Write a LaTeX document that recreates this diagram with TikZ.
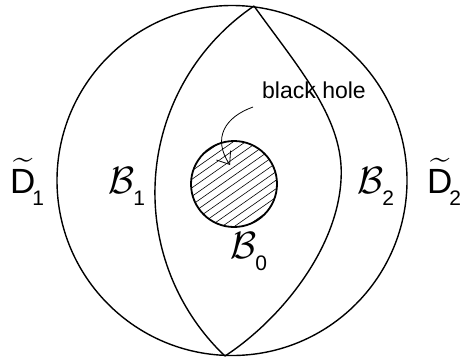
\documentclass[tikz,border=0pt]{standalone}
\usepackage{fontspec}
\setmainfont{Liberation Sans}
\usepackage{graphicx}
\usepackage{tikz}
\usetikzlibrary{arrows.meta}
\newcommand{\bigsub}[1]{\kern-1pt\raisebox{-12pt}{\fontsize{21}{21}\selectfont #1}}
\newcommand{\calB}{\scalebox{3.8}{$\mathcal{B}$}}
\newcommand{\tildeD}{\scalebox{3.5}{$\widetilde{\mbox{D}}$}\kern-2pt}

\begin{document}
\begin{tikzpicture}[x=1pt, y=1pt,
  lbl/.style={anchor=base west, inner sep=0pt},
  rim/.style={line width=1.4pt},
  hatchline/.style={line width=0.6pt}]
\useasboundingbox (0,0) rectangle (462,360);

\coordinate (c0) at (232,179.5);
\coordinate (top) at (254,354);
\coordinate (bot) at (225,4);
\coordinate (bh) at (234,176);

% outer disc and the two lens arcs
\draw[rim] (c0) circle[radius=175];
\draw[rim] (top) arc[start angle=124.1, end angle=226.4, radius=225.5];
\draw[rim] (top) .. controls (300,290) and (345,240) .. (341,180)
  .. controls (337,110) and (280,40) .. (bot);

% black hole, hatched
\begin{scope}
\clip (bh) circle[radius=43];
\foreach \i in {-63,-56,...,63}
  \draw[hatchline] (bh) ++(125:\i) ++(215:60) -- ++(35:120);
\end{scope}
\draw[line width=1.8pt] (bh) circle[radius=43];

\node[lbl, font=\fontsize{23}{25}\selectfont] (bhtext) at (262,262) {black hole};
\coordinate (arrstart) at (253,253);
\coordinate (arrtip) at (230,195);
\draw[line width=0.8pt, -{Straight Barb[length=11pt, width=17pt]}]
  (arrstart) .. controls (225,243) and (212,222) .. (arrtip);

% labels
\node[lbl] (d1) at (10,167) {\tildeD\bigsub{1}};
\node[lbl] (b1) at (108,167) {\calB\bigsub{1}};
\node[lbl] (b0) at (230,102) {\calB\bigsub{0}};
\node[lbl] (b2) at (357,167) {\calB\bigsub{2}};
\node[lbl] (d2) at (427,167) {\tildeD\bigsub{2}};
\end{tikzpicture}
\end{document}
